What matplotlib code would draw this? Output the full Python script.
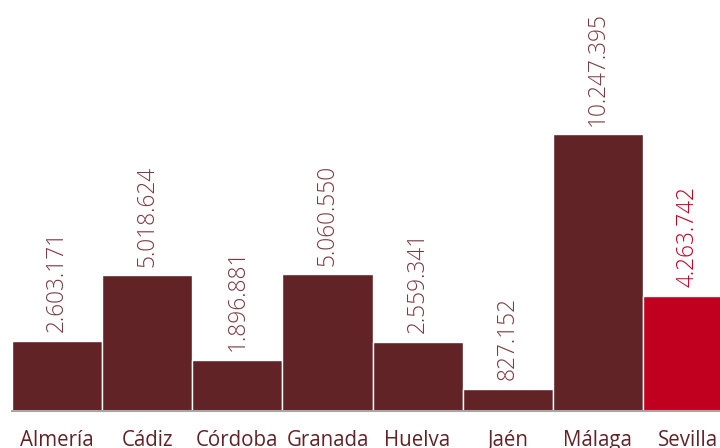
import matplotlib.pyplot as plt

provincias = ['Almería', 'Cádiz', 'Córdoba', 'Granada', 'Huelva', 'Jaén', 'Málaga', 'Sevilla']
valores = [2603171, 5018624, 1896881, 5060550, 2559341, 827152, 10247395, 4263742]
etiquetas = ['2.603.171', '5.018.624', '1.896.881', '5.060.550', '2.559.341', '827.152', '10.247.395', '4.263.742']

granate = '#622326'
rojo = '#C0001E'
colores = [granate] * 7 + [rojo]

plt.rcParams['font.family'] = ['Open Sans', 'DejaVu Sans']

fig = plt.figure(figsize=(7.2, 4.48), dpi=100)
ax = fig.add_axes([12 / 720, 37 / 448, 721 / 720, 411 / 448])

x = range(len(provincias))
ax.bar(x, valores, width=1.0, color=colores, edgecolor='white', linewidth=1.0)

for i, (v, t) in enumerate(zip(valores, etiquetas)):
    c = rojo if i == 7 else '#7A3A3F'
    ax.annotate(t, (i, v), xytext=(0, 6), textcoords='offset points',
                rotation=90, ha='center', va='bottom', fontsize=16.3,
                fontweight='light', color=c)

ax.set_xlim(-0.5, 7.5)
ax.set_ylim(0, 15.2e6)
ax.set_xticks(list(x))
ax.set_xticklabels(provincias, fontsize=14.8, color=granate)
ax.tick_params(axis='x', length=0, pad=13.5)
ax.set_yticks([])
for s in ['top', 'right', 'left']:
    ax.spines[s].set_visible(False)
ax.spines['bottom'].set_color('#A6A6A6')
ax.spines['bottom'].set_linewidth(1.5)

fig.savefig('out.png', dpi=100)
